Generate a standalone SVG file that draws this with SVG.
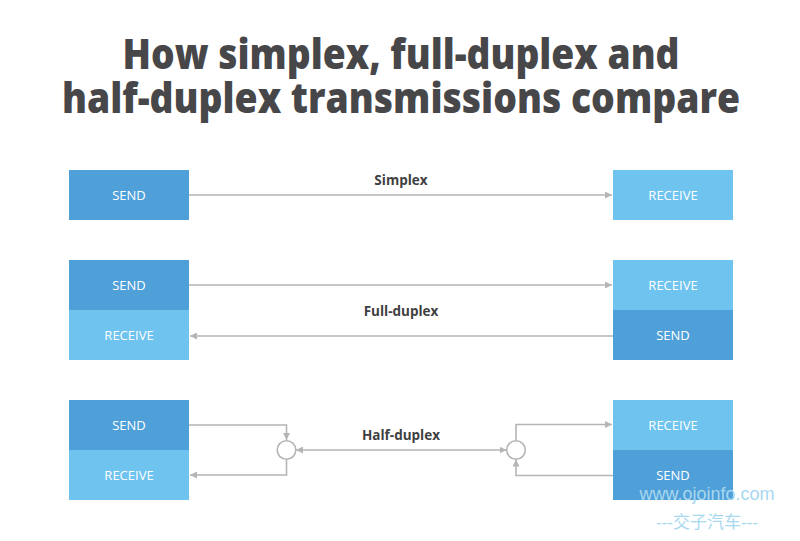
<svg xmlns="http://www.w3.org/2000/svg" width="800" height="541" viewBox="0 0 800 541">
<style>
.title{font-family:"Open Sans","Liberation Sans",sans-serif;font-weight:800;font-size:42px;fill:#47474a;text-anchor:middle}
.dark{fill:#4f9fd8}
.light{fill:#6fc3ef}
.bt{font-family:"Open Sans","Liberation Sans",sans-serif;font-size:13px;fill:#fff;text-anchor:middle}
.lbl{font-family:"Open Sans","Liberation Sans",sans-serif;font-weight:700;font-size:13.5px;fill:#3f3f42;text-anchor:middle}
.ln{fill:none;stroke:#b5b5b5;stroke-width:1.6}
.wm{font-family:"Liberation Sans","Noto Sans CJK SC",sans-serif;fill:#a8d8f0}
</style>
<defs>
<marker id="ah" viewBox="0 0 10 10" refX="10" refY="5" markerWidth="7" markerHeight="7" markerUnits="userSpaceOnUse" orient="auto-start-reverse">
<path d="M0,0 L10,5 L0,10 z" fill="#b5b5b5"/>
</marker>
</defs>
<text class="title" x="401" y="69" textLength="557" lengthAdjust="spacingAndGlyphs">How simplex, full-duplex and</text>
<text class="title" x="401" y="113" textLength="678" lengthAdjust="spacingAndGlyphs">half-duplex transmissions compare</text>

<g id="simplex-send"><rect class="dark" x="69" y="170" width="120" height="50"/><text class="bt" x="129" y="200">SEND</text></g>
<g id="simplex-receive"><rect class="light" x="613" y="170" width="120" height="50"/><text class="bt" x="673" y="200">RECEIVE</text></g>

<g id="full-left-send"><rect class="dark" x="69" y="260" width="120" height="50"/><text class="bt" x="129" y="290">SEND</text></g>
<g id="full-left-receive"><rect class="light" x="69" y="310" width="120" height="50"/><text class="bt" x="129" y="340">RECEIVE</text></g>
<g id="full-right-receive"><rect class="light" x="613" y="260" width="120" height="50"/><text class="bt" x="673" y="290">RECEIVE</text></g>
<g id="full-right-send"><rect class="dark" x="613" y="310" width="120" height="50"/><text class="bt" x="673" y="340">SEND</text></g>

<g id="half-left-send"><rect class="dark" x="69" y="400" width="120" height="50"/><text class="bt" x="129" y="430">SEND</text></g>
<g id="half-left-receive"><rect class="light" x="69" y="450" width="120" height="50"/><text class="bt" x="129" y="480">RECEIVE</text></g>
<g id="half-right-receive"><rect class="light" x="613" y="400" width="120" height="50"/><text class="bt" x="673" y="430">RECEIVE</text></g>
<g id="half-right-send"><rect class="dark" x="613" y="450" width="120" height="50"/><text class="bt" x="673" y="480">SEND</text></g>
<g id="switch-left"><circle cx="286.5" cy="450" r="9.3" fill="#fff" stroke="#b5b5b5" stroke-width="1.6"/></g>
<g id="switch-right"><circle cx="516" cy="450" r="9.3" fill="#fff" stroke="#b5b5b5" stroke-width="1.6"/></g>

<g id="connectors">
<line class="ln" x1="189" y1="195" x2="612" y2="195" marker-end="url(#ah)"/>
<line class="ln" x1="189" y1="285" x2="612" y2="285" marker-end="url(#ah)"/>
<line class="ln" x1="613" y1="336" x2="190" y2="336" marker-end="url(#ah)"/>
<polyline class="ln" points="189,425 286.5,425 286.5,440" marker-end="url(#ah)"/>
<polyline class="ln" points="286.5,459.3 286.5,475 190,475" marker-end="url(#ah)"/>
<line class="ln" x1="296" y1="450" x2="506.5" y2="450" marker-start="url(#ah)" marker-end="url(#ah)"/>
<polyline class="ln" points="516,440.7 516,424.5 612,424.5" marker-end="url(#ah)"/>
<polyline class="ln" points="613,475.5 516,475.5 516,459.5" marker-end="url(#ah)"/>
</g>
<text class="lbl" x="401" y="185">Simplex</text>
<text class="lbl" x="401" y="316">Full-duplex</text>
<text class="lbl" x="401" y="440">Half-duplex</text>

<text class="wm" x="707" y="500" font-size="18" text-anchor="middle">www.ojoinfo.com</text>
<text class="wm" x="707" y="528" font-size="17" text-anchor="middle">---交子汽车---</text>
</svg>
